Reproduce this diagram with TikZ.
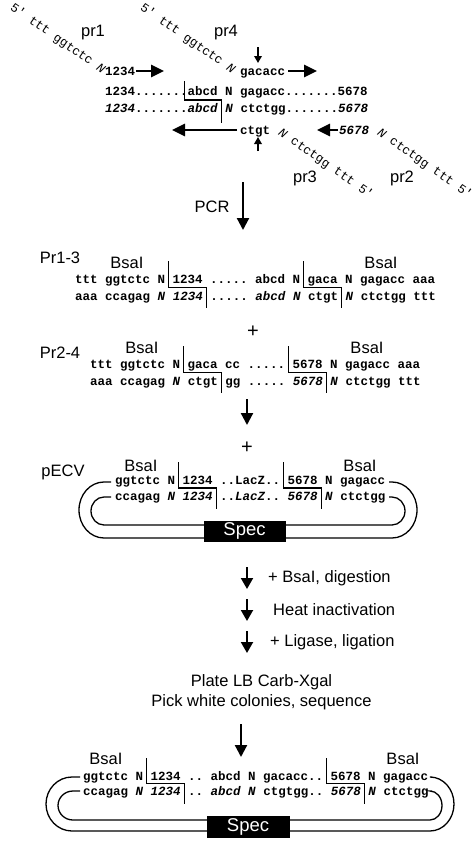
\documentclass[tikz,border=0pt]{standalone}
\usepackage{fontspec}
\setmainfont{Liberation Sans}
\setmonofont{Liberation Mono}
\usetikzlibrary{arrows.meta}
\tikzset{
  seq/.style={font=\ttfamily\bfseries\fontsize{12.5}{14}\selectfont, inner sep=0pt, anchor=base west},
  prim/.style={font=\ttfamily\fontsize{12.5}{14}\selectfont, inner sep=0pt, rotate=-35},
  lab/.style={font=\fontsize{16.5}{19}\selectfont, inner sep=0pt},
  steplab/.style={font=\fontsize{16.5}{19}\selectfont, inner sep=0pt, anchor=west},
  plus/.style={font=\fontsize{20}{22}\selectfont, inner sep=0pt},
  brk/.style={line width=1.3pt},
  loopline/.style={line width=1.3pt},
  bigarr/.style={line width=2.2pt, -{Triangle[length=12pt,width=12pt]}},
  priarr/.style={line width=2.8pt, -{Triangle[length=13pt,width=12pt]}},
  smallarr/.style={line width=1.8pt, -{Triangle[length=7pt,width=7.5pt]}},
  steparr/.style={line width=2pt, -{Triangle[length=11pt,width=12pt]}},
  specbox/.style={fill=black, draw=black, text=white, font=\fontsize{18.5}{20}\selectfont, inner sep=0pt, minimum width=81pt, minimum height=20pt},
}
\begin{document}
\begin{tikzpicture}[x=1pt,y=1pt]
\useasboundingbox (0,0) rectangle (474,-841);

% ---------------- primers ----------------
\node[prim, anchor=base east] (p1s) at (102,-74) {5' ttt ggtctc \textit{N}};
\node[lab] (pr1) at (93,-33) {pr1};
\node[seq] (p1n) at (105,-75) {1234};
\coordinate (p1t) at (136,-71);
\coordinate (p1h) at (164,-71);
\draw[priarr] (p1t) -- (p1h);

\node[prim, anchor=base east] (p4s) at (232,-74) {5' ttt ggtctc \textit{N}};
\node[lab] (pr4) at (226,-33) {pr4};
\node[seq] (p4n) at (240,-75) {gacacc};
\coordinate (p4t) at (288,-71);
\coordinate (p4h) at (317,-71);
\draw[priarr] (p4t) -- (p4h);
\coordinate (cut1a) at (258,-47);
\coordinate (cut1b) at (258,-63);
\draw[smallarr] (cut1a) -- (cut1b);

\node[seq] (r1) at (105,-95) {1234.......abcd N gagacc.......5678};
\node[seq] (r2) at (105,-112) {\textit{1234}.......\textit{abcd} \textit{N} ctctgg.......\textit{5678}};
\draw[brk] (184.5,-81) -- (184.5,-100) -- (221.25,-100) -- (221.25,-123);

\node[seq] (p3n) at (240,-134) {ctgt};
\coordinate (p3t) at (237,-130);
\coordinate (p3h) at (172,-130);
\draw[priarr] (p3t) -- (p3h);
\coordinate (cut2a) at (258,-151);
\coordinate (cut2b) at (258,-137);
\draw[smallarr] (cut2a) -- (cut2b);
\node[prim, anchor=base west] (p3s) at (277.5,-134) {\textit{N} ctctgg ttt 5'};
\node[lab] (pr3) at (305,-178) {pr3};

\node[seq] (p2n) at (339,-134) {\textit{5678}};
\coordinate (p2t) at (338,-130);
\coordinate (p2h) at (317,-130);
\draw[priarr] (p2t) -- (p2h);
\node[prim, anchor=base west] (p2s) at (376.5,-134) {\textit{N} ctctgg ttt 5'};
\node[lab] (pr2) at (402,-178) {pr2};

% ---------------- PCR ----------------
\node[lab] (pcr) at (212,-207) {PCR};
\coordinate (pcra) at (243,-182);
\coordinate (pcrb) at (243,-230);
\draw[bigarr] (pcra) -- (pcrb);

% ---------------- Pr1-3 ----------------
\node[lab] (l13) at (60,-258) {Pr1-3};
\node[lab] (b13a) at (127,-263) {BsaI};
\node[lab] (b13b) at (381,-263) {BsaI};
\node[seq] (t13) at (75,-283) {ttt ggtctc N 1234 ..... abcd N gaca N gagacc aaa};
\node[seq] (u13) at (75,-300) {aaa ccagag \textit{N} \textit{1234} ..... \textit{abcd} \textit{N} ctgt \textit{N} ctctgg ttt};
\draw[brk] (168.75,-261) -- (168.75,-287.5) -- (206.25,-287.5) -- (206.25,-308);
\draw[brk] (303.75,-261) -- (303.75,-287.5) -- (341.25,-287.5) -- (341.25,-308);

\node[plus] (plus1) at (253,-332) {+};

% ---------------- Pr2-4 ----------------
\node[lab] (l24) at (60,-353) {Pr2-4};
\node[lab] (b24a) at (142,-348) {BsaI};
\node[lab] (b24b) at (367,-348) {BsaI};
\node[seq] (t24) at (90,-368) {ttt ggtctc N gaca cc ..... 5678 N gagacc aaa};
\node[seq] (u24) at (90,-385) {aaa ccagag \textit{N} ctgt gg ..... \textit{5678} \textit{N} ctctgg ttt};
\draw[brk] (183.75,-346) -- (183.75,-372.5) -- (221.25,-372.5) -- (221.25,-393);
\draw[brk] (288.75,-346) -- (288.75,-372.5) -- (326.25,-372.5) -- (326.25,-393);

\coordinate (a2a) at (247,-399);
\coordinate (a2b) at (247,-425);
\draw[bigarr] (a2a) -- (a2b);
\node[plus] (plus2) at (247,-448) {+};

% ---------------- pECV ----------------
\node[lab] (lpe) at (63,-472) {pECV};
\node[lab] (bpa) at (141,-466) {BsaI};
\node[lab] (bpb) at (360,-466) {BsaI};
\node[seq] (tpe) at (115,-484) {ggtctc N 1234 ..LacZ.. 5678 N gagacc};
\node[seq] (upe) at (115,-500) {ccagag \textit{N 1234} ..\textit{LacZ}.. \textit{5678 N} ctctgg};
\draw[brk] (178.75,-462) -- (178.75,-488) -- (216.25,-488) -- (216.25,-509);
\draw[brk] (283.75,-462) -- (283.75,-488) -- (321.25,-488) -- (321.25,-509);
\draw[loopline] (111,-482) -- (104,-482) arc[start angle=90, end angle=270, x radius=25, y radius=28]
  -- (392,-538) arc[start angle=-90, end angle=90, x radius=25, y radius=28] -- (389,-482);
\draw[loopline] (111,-497) -- (104,-497) arc[start angle=90, end angle=270, x radius=13, y radius=14]
  -- (392,-525) arc[start angle=-90, end angle=90, x radius=13, y radius=14] -- (389,-497);
\node[specbox] (spec1) at (244.5,-531) {Spec};

% ---------------- steps ----------------
\coordinate (s1a) at (247,-567);
\coordinate (s1b) at (247,-589);
\draw[steparr] (s1a) -- (s1b);
\node[steplab] (st1) at (268,-578) {+ BsaI, digestion};
\coordinate (s2a) at (247,-599);
\coordinate (s2b) at (247,-621);
\draw[steparr] (s2a) -- (s2b);
\node[steplab] (st2) at (273,-610) {Heat inactivation};
\coordinate (s3a) at (247,-631);
\coordinate (s3b) at (247,-653);
\draw[steparr] (s3a) -- (s3b);
\node[steplab] (st3) at (270,-642) {+ Ligase, ligation};

\node[lab] (plate) at (261.5,-682) {Plate LB Carb-Xgal};
\node[lab] (pick) at (261.5,-702) {Pick white colonies, sequence};
\coordinate (a3a) at (241,-724);
\coordinate (a3b) at (241,-757);
\draw[bigarr] (a3a) -- (a3b);

% ---------------- final ----------------
\node[lab] (bfa) at (106,-759) {BsaI};
\node[lab] (bfb) at (403,-759) {BsaI};
\node[seq] (tf) at (83,-780) {ggtctc N 1234 .. abcd N gacacc.. 5678 N gagacc};
\node[seq] (uf) at (83,-795) {ccagag \textit{N 1234} .. \textit{abcd N} ctgtgg.. \textit{5678 N} ctctgg};
\draw[brk] (146.75,-758) -- (146.75,-783.5) -- (184.25,-783.5) -- (184.25,-804);
\draw[brk] (326.75,-758) -- (326.75,-783.5) -- (364.25,-783.5) -- (364.25,-804);
\draw[loopline] (80,-777) -- (72,-777) arc[start angle=90, end angle=270, x radius=26, y radius=27]
  -- (430,-831) arc[start angle=-90, end angle=90, x radius=24, y radius=27] -- (432,-777);
\draw[loopline] (80,-791) -- (73,-791) arc[start angle=90, end angle=270, x radius=15, y radius=14.5]
  -- (430,-820) arc[start angle=-90, end angle=90, x radius=12, y radius=14.5] -- (432,-791);
\node[specbox, minimum width=82pt, minimum height=21pt] (spec2) at (248,-827) {Spec};
\end{tikzpicture}
\end{document}
